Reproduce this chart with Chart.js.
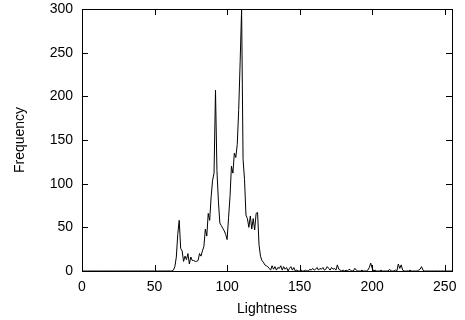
<!DOCTYPE html>
<html>
<head>
<meta charset="utf-8">
<script src="https://cdn.jsdelivr.net/npm/chart.js@4"></script>
<style>
  html, body { margin: 0; padding: 0; background: #fff; }
  #wrap { width: 465px; height: 320px; }
</style>
</head>
<body>
<div id="wrap"><canvas id="hist"></canvas></div>
<script>
// Lightness histogram, one count per level 0..255
const frequency = [
  0, 0, 0, 0, 0, 0, 0, 0, 0, 0, 0, 0, 0, 0, 0, 0,
  0, 0, 0, 0, 0, 0, 0, 0, 0, 0, 0, 0, 0, 0, 0, 0,
  0, 0, 0, 0, 0, 0, 0, 0, 0, 0, 0, 0, 0, 0, 0, 0,
  0, 0, 0, 0, 0, 0, 0, 0, 0, 0, 0, 0, 0, 0, 0, 1,
  5, 16, 42, 58, 26, 23, 11, 17, 13, 20, 8, 16, 12, 12, 11, 11,
  12, 20, 17, 23, 28, 48, 40, 66, 58, 85, 104, 112, 207, 115, 80, 55,
  52, 49, 46, 42, 36, 61, 85, 120, 112, 135, 130, 145, 185, 240, 300, 128,
  105, 64, 60, 50, 63, 48, 60, 47, 66, 67, 30, 17, 12, 10, 7, 6,
  5, 3, 1, 6, 2, 5, 1, 4, 3, 6, 1, 5, 2, 4, 0, 3,
  5, 1, 4, 0, 1, 0, 0, 1, 0, 0, 1, 0, 0, 2, 1, 3,
  1, 2, 4, 1, 3, 2, 4, 1, 2, 5, 3, 1, 4, 2, 3, 1,
  7, 2, 1, 0, 1, 0, 1, 0, 2, 1, 0, 0, 3, 1, 0, 0,
  0, 1, 0, 0, 0, 1, 4, 9, 3, 0, 1, 0, 0, 0, 1, 0,
  0, 0, 0, 0, 2, 0, 0, 0, 1, 0, 8, 3, 7, 1, 0, 0,
  0, 0, 1, 0, 0, 0, 0, 0, 1, 2, 5, 1, 0, 0, 0, 0,
  0, 0, 0, 0, 0, 0, 0, 0, 0, 0, 0, 0, 0, 0, 0, 0
];
const lightness = frequency.map((_, i) => i);
const xTicks = [0, 50, 100, 150, 200, 250];
const yTicks = [0, 50, 100, 150, 200, 250, 300];

const font = { family: '"Liberation Sans", Arial, sans-serif', size: 14 };

// gnuplot style frame: full box with inward ticks on all four sides
const frameTicks = {
  id: 'frameTicks',
  afterDraw(c) {
    const { ctx, chartArea: a, scales: { x, y } } = c;
    const len = 6;
    ctx.save();
    ctx.strokeStyle = '#000';
    ctx.lineWidth = 1;
    ctx.beginPath();
    xTicks.forEach((v) => {
      const px = Math.round(x.getPixelForValue(v)) + 0.5;
      ctx.moveTo(px, a.bottom); ctx.lineTo(px, a.bottom - len);
      ctx.moveTo(px, a.top); ctx.lineTo(px, a.top + len);
    });
    yTicks.forEach((v) => {
      const py = Math.round(y.getPixelForValue(v)) + 0.5;
      ctx.moveTo(a.left, py); ctx.lineTo(a.left + len, py);
      ctx.moveTo(a.right, py); ctx.lineTo(a.right - len, py);
    });
    ctx.stroke();
    ctx.strokeRect(Math.round(a.left) + 0.5, Math.round(a.top) + 0.5,
      Math.round(a.right - a.left), Math.round(a.bottom - a.top));
    ctx.restore();
  },
};

new Chart(document.getElementById('hist'), {
  type: 'line',
  data: {
    datasets: [{
      data: frequency.map((v, i) => ({ x: lightness[i], y: v })),
      borderColor: '#000',
      borderWidth: 1,
      pointRadius: 0,
      tension: 0,
      fill: false,
    }],
  },
  options: {
    responsive: true,
    maintainAspectRatio: false,
    animation: false,
    layout: { padding: { top: 9, right: 13, left: 0, bottom: 0 } },
    plugins: { legend: { display: false }, tooltip: { enabled: false } },
    scales: {
      x: {
        type: 'linear',
        min: 0,
        max: 255,
        afterFit(s) { s.height = 49; s.paddingLeft = 0; s.paddingRight = 0; },
        afterBuildTicks(s) { s.ticks = xTicks.map((v) => ({ value: v })); },
        grid: { display: false, drawTicks: false },
        border: { display: false },
        ticks: { color: '#000', font, padding: 8, maxRotation: 0 },
        title: { display: true, text: 'Lightness', color: '#000', font, padding: { top: 0, bottom: 2 } },
      },
      y: {
        min: 0,
        max: 300,
        afterFit(s) { s.width = 82; s.paddingTop = 0; s.paddingBottom = 0; },
        afterBuildTicks(s) { s.ticks = yTicks.map((v) => ({ value: v })); },
        grid: { display: false, drawTicks: false },
        border: { display: false },
        ticks: { color: '#000', font, padding: 9 },
        title: { display: true, text: 'Frequency', color: '#000', font, padding: { top: 12, bottom: 0 } },
      },
    },
  },
  plugins: [frameTicks],
});
</script>
</body>
</html>
